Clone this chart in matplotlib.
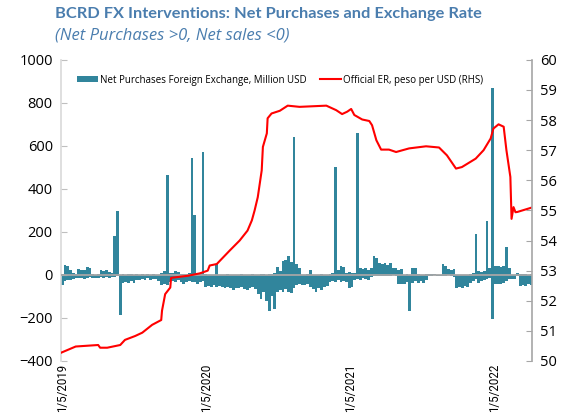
import pandas as pd
import matplotlib.pyplot as plt

# weekly net purchases (positive days) and net sales (negative days), million USD
purchases = [5, 47, 40, 23, 8, 5, 28, 22, 23, 39, 30, 3, 2, 4, 23, 20, 23, 12, 10, 182,
             299, 0, 3, 2, 4, 3, 0, 5, 2, 3, 0, 4, 2, 3, 0, 2, 8, 19, 465, 10,
             8, 19, 15, 5, 4, 6, 10, 543, 280, 8, 10, 571, 5, 0, 0, 0, 50, 0, 2, 0,
             3, 0, 0, 2, 0, 4, 0, 2, 0, 3, 0, 0, 3, 5, 0, 4, 6, 10, 39, 20,
             65, 70, 86, 60, 641, 50, 30, 0, 0, 5, 23, 0, 0, 0, 3, 0, 0, 5, 10, 504,
             23, 42, 35, 10, 12, 8, 10, 662, 31, 28, 31, 25, 30, 86, 80, 54, 50, 54, 45, 54,
             31, 30, 25, 28, 0, 3, 0, 34, 30, 5, 0, 0, 3, 6, 5, 6, 0, 0, 50, 40,
             26, 22, 26, 0, 0, 0, 0, 0, 5, 10, 190, 19, 15, 19, 252, 30, 867, 42, 40, 35,
             42, 128, 30, 0, 0, 11, 5, 3, 5, 2, 4]
sales = [-47, -30, -25, -25, -20, -12, -15, -12, -20, -12, -10, -12, -15, -12, -10, -12, -8, -12, -10, -8,
         -5, -184, -39, -35, -39, -30, -39, -25, -23, -20, -23, -15, -23, -20, -18, -30, -47, -40, -47, -31,
         -28, -31, -25, -31, -40, -31, -28, -35, -31, -40, -31, -28, -54, -50, -54, -45, -54, -50, -54, -62,
         -55, -62, -70, -60, -62, -55, -65, -70, -62, -58, -65, -90, -110, -80, -120, -167, -100, -159, -78, -70,
         -78, -65, -78, -86, -60, -47, -40, -47, -45, -40, -55, -65, -78, -60, -70, -55, -50, -31, -28, -31,
         -25, -31, -28, -31, -62, -55, -23, -20, -23, -15, -20, -23, -10, -5, -3, -5, -4, -5, -3, -5,
         -2, -5, -44, -40, -44, -35, -167, -36, -30, -36, -30, -36, -25, -5, -3, -2, -4, -3, -5, -3,
         -2, -5, -10, -59, -55, -59, -50, -55, -36, -30, -20, -36, -30, -25, -20, -15, -204, -44, -40, -44,
         -38, -30, -20, -18, -20, -5, -51, -45, -51, -40, -48]
weeks = pd.date_range('2019-01-04', periods=len(purchases), freq='7D')

er_dates = ['2019-01-02', '2019-02-07', '2019-04-05', '2019-04-10', '2019-04-28', '2019-05-31',
            '2019-06-12', '2019-07-08', '2019-07-26', '2019-08-20', '2019-09-12', '2019-09-14',
            '2019-09-22', '2019-10-05', '2019-10-07', '2019-11-19', '2019-12-19', '2020-01-08',
            '2020-01-13', '2020-01-31', '2020-03-04', '2020-03-29', '2020-04-18', '2020-04-29',
            '2020-05-06', '2020-05-14', '2020-05-24', '2020-05-27', '2020-06-06', '2020-06-08',
            '2020-06-18', '2020-07-09', '2020-07-29', '2020-08-28', '2020-11-04', '2020-11-29',
            '2020-12-14', '2020-12-27', '2021-01-06', '2021-01-14', '2021-02-03', '2021-02-21',
            '2021-02-28', '2021-03-11', '2021-03-23', '2021-04-12', '2021-04-30', '2021-06-02',
            '2021-07-15', '2021-08-17', '2021-09-06', '2021-09-29', '2021-10-14', '2021-11-18',
            '2021-12-08', '2021-12-26', '2022-01-02', '2022-01-15', '2022-01-28', '2022-02-04',
            '2022-02-14', '2022-02-17', '2022-02-22', '2022-02-27', '2022-03-04', '2022-04-08']
er_values = [50.28, 50.48, 50.53, 50.44, 50.44, 50.53,
             50.70, 50.83, 50.94, 51.20, 51.36, 51.67,
             52.22, 52.44, 52.76, 52.83, 52.91, 53.00,
             53.17, 53.22, 53.67, 54.00, 54.33, 54.67,
             55.00, 55.44, 56.33, 57.11, 57.56, 58.06,
             58.22, 58.31, 58.48, 58.44, 58.48, 58.33,
             58.20, 58.28, 58.37, 58.17, 58.02, 57.97,
             57.83, 57.33, 57.02, 57.02, 56.94, 57.06,
             57.13, 57.09, 56.83, 56.39, 56.44, 56.72,
             57.00, 57.39, 57.72, 57.86, 57.78, 57.00,
             56.11, 54.72, 55.11, 54.94, 54.95, 55.09]

tick_dates = ['2019-01-05', '2020-01-05', '2021-01-05', '2022-01-05']
tick_labels = ['1/5/2019', '1/5/2020', '1/5/2021', '1/5/2022']

bar_color = '#31859C'
title_color = '#4A7DAE'
plt.rcParams['font.family'] = ['Open Sans', 'DejaVu Sans']

fig = plt.figure(figsize=(5.66, 4.13), dpi=100)
ax = fig.add_axes([0.108, 0.126, 0.832, 0.729])
ax.bar(weeks, purchases, width=7, color=bar_color, linewidth=0,
       label='Net Purchases Foreign Exchange, Million USD')
ax.bar(weeks, sales, width=7, color=bar_color, linewidth=0)
ax.axhline(0, color='#A6A6A6', linewidth=1.3, zorder=3)
ax.set_ylim(-400, 1000)
ax.set_yticks(range(-400, 1001, 200))
ax.set_xlim(pd.Timestamp('2019-01-01'), pd.Timestamp('2022-04-10'))
ax.set_xticks(pd.to_datetime(tick_dates))
ax.set_xticklabels(tick_labels, rotation=90, fontsize=8.3, family=['Roboto', 'DejaVu Sans'])
ax.tick_params(axis='x', length=0, pad=2)
ax.tick_params(axis='y', direction='in', length=4, color='#BFBFBF', labelsize=10.5, pad=6)
for s in ['top', 'right', 'bottom']:
    ax.spines[s].set_visible(False)
ax.spines['left'].set_color('#D9D9D9')
ax.spines['left'].set_linewidth(1.2)

ax2 = ax.twinx()
ax2.plot(pd.to_datetime(er_dates), er_values, color='#FF0000', linewidth=1.5,
         label='Official ER, peso per USD (RHS)')
ax2.set_ylim(50, 60)
ax2.set_yticks(range(50, 61))
ax2.tick_params(axis='y', direction='in', length=4, color='#A6A6A6', labelsize=10.5, pad=6)
for s in ['top', 'left', 'bottom']:
    ax2.spines[s].set_visible(False)
ax2.spines['right'].set_color('#A6A6A6')
ax2.spines['right'].set_linewidth(1.2)

h1, l1 = ax.get_legend_handles_labels()
h2, l2 = ax2.get_legend_handles_labels()
ax2.legend(h1 + h2, l1 + l2, loc='upper center', ncol=2, frameon=False, fontsize=7,
           bbox_to_anchor=(0.465, 0.98), handlelength=2.2, handleheight=0.6,
           columnspacing=1.3, handletextpad=0.2)

fig.text(0.097, 0.965, 'BCRD FX Interventions: Net Purchases and Exchange Rate',
         fontsize=11.8, fontweight='bold', color=title_color, va='center',
         family=['Lato', 'DejaVu Sans'])
fig.text(0.097, 0.915, '(Net Purchases >0, Net sales <0)', fontsize=12,
         style='italic', color=title_color, va='center')

fig.savefig('out.png', dpi=100)
